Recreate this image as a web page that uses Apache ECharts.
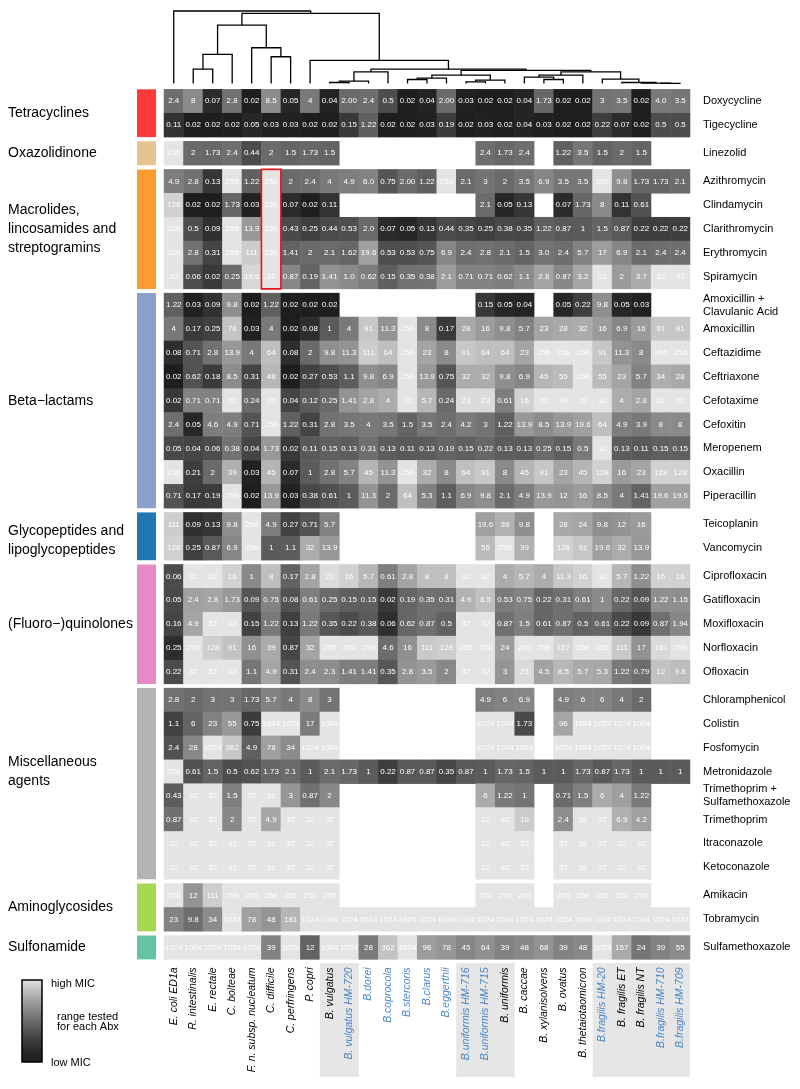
<!DOCTYPE html>
<html><head><meta charset="utf-8">
<script src="https://cdn.jsdelivr.net/npm/echarts@6/dist/echarts.min.js"></script>
<style>html,body{margin:0;padding:0;background:#fff}#c{width:800px;height:1089px}</style>
</head><body><div id="c"></div><script>
const _ = null;
// ---- columns (strains) ----
const strains = ['E. coli ED1a','R. intestinalis','E. rectale','C. bolteae','F. n. subsp. nucleatum','C. difficile','C. perfringens','P. copri','B. vulgatus','B. vulgatus HM-720','B.dorei','B.coprocola','B.stercoris','B.clarus','B.eggerthii','B.uniformis HM-716','B.uniformis HM-715','B. uniformis','B. caccae','B. xylanisolvens','B. ovatus','B. thetaiotaomicron','B.fragilis HM-20','B. fragilis ET','B. fragilis NT','B.fragilis HM-710','B.fragilis HM-709'];
const blueStrainIdx = [9,10,11,12,13,14,15,16,22,25,26];
const speciesBoxes = [[8,9],[15,17],[22,26]];
// ---- MIC values (rows) ----
const doxycycline = ['2.4','8','0.07','2.8','0.02','8.5','0.05','4','0.04','2.00','2.4','0.5','0.02','0.04','2.00','0.03','0.02','0.02','0.04','1.73','0.02','0.02','3','3.5','0.02','4.0','3.5'];
const tigecycline = ['0.11','0.02','0.02','0.02','0.05','0.03','0.03','0.02','0.02','0.15','1.22','0.02','0.02','0.03','0.19','0.02','0.03','0.02','0.04','0.03','0.02','0.02','0.22','0.07','0.02','0.5','0.5'];
const linezolid = ['256','2','1.73','2.4','0.44','2','1.5','1.73','1.5',_,_,_,_,_,_,_,'2.4','1.73','2.4',_,'1.22','3.5','1.5','2','1.5',_,_];
const azithromycin = ['4.9','2.8','0.13','256','1.22','256','2','2.4','4','4.9','6.0','0.75','2.00','1.22','256','2.1','3','2','3.5','6.9','3.5','3.5','256','9.8','1.73','1.73','2.1'];
const clindamycin = ['128','0.02','0.02','1.73','0.03','256','0.07','0.02','0.11',_,_,_,_,_,_,_,'2.1','0.05','0.13',_,'0.07','1.73','8','0.11','0.61',_,_];
const clarithromycin = ['256','0.5','0.09','256','13.9','256','0.43','0.25','0.44','0.53','2.0','0.07','0.05','0.13','0.44','0.35','0.25','0.38','0.35','1.22','0.87','1','1.5','0.87','0.22','0.22','0.22'];
const erythromycin = ['256','2.8','0.31','256','111','256','1.41','2','2.1','1.62','19.6','0.53','0.53','0.75','6.9','2.4','2.8','2.1','1.5','3.0','2.4','5.7','17','6.9','2.1','2.4','2.4'];
const spiramycin = ['32','0.06','0.02','0.25','19.6','32','0.87','0.19','1.41','1.0','0.62','0.15','0.35','0.38','2.1','0.71','0.71','0.62','1.1','2.8','0.87','3.2','32','2','3.7','32','32'];
const amoxClav = ['1.22','0.03','0.09','9.8','0.02','1.22','0.02','0.02','0.02',_,_,_,_,_,_,_,'0.15','0.05','0.04',_,'0.05','0.22','9.8','0.05','0.03',_,_];
const amoxicillin = ['4','0.17','0.25','78','0.03','4','0.02','0.08','1','4','91','11.3','256','8','0.17','28','16','9.8','5.7','23','28','32','16','6.9','16','91','91'];
const ceftazidime = ['0.08','0.71','2.8','13.9','4','64','0.08','2','9.8','11.3','111','64','256','23','8','91','64','64','23','256','256','256','91','11.3','8','256','256'];
const ceftriaxone = ['0.02','0.62','0.18','8.5','0.31','48','0.02','0.27','0.53','1.1','9.8','6.9','256','13.9','0.75','32','32','9.8','6.9','45','55','256','55','23','5.7','34','28'];
const cefotaxime = ['0.02','0.71','0.71','32','0.24','32','0.04','0.12','0.25','1.41','2.8','4','32','5.7','0.24','23','23','0.61','16','32','39','32','32','4','2.8','32','32'];
const cefoxitin = ['2.4','0.05','4.6','4.9','0.71','256','1.22','0.31','2.8','3.5','4','3.5','1.5','3.5','2.4','4.2','3','1.22','13.9','8.5','13.9','19.6','64','4.9','3.9','8','8'];
const meropenem = ['0.05','0.04','0.06','0.38','0.04','1.73','0.02','0.11','0.15','0.13','0.31','0.13','0.11','0.13','0.19','0.15','0.22','0.13','0.13','0.25','0.15','0.5','32','0.13','0.11','0.15','0.15'];
const oxacillin = ['256','0.21','2','39','0.03','45','0.07','1','2.8','5.7','45','11.3','256','32','8','64','91','8','45','91','23','45','128','16','23','128','128'];
const piperacillin = ['0.71','0.17','0.19','256','0.02','13.9','0.03','0.38','0.61','1','11.3','2','64','5.3','1.1','6.9','9.8','2.1','4.9','13.9','12','16','8.5','4','1.41','19.6','19.6'];
const teicoplanin = ['111','0.09','0.13','9.8','256','4.9','0.27','0.71','5.7',_,_,_,_,_,_,_,'19.6','39','9.8',_,'28','24','9.8','12','16',_,_];
const vancomycin = ['128','0.25','0.87','6.9','256','1','1.1','32','13.9',_,_,_,_,_,_,_,'55','256','39',_,'128','91','19.6','32','13.9',_,_];
const ciprofloxacin = ['0.06','32','32','16','1','8','0.17','2.8','23','16','5.7','0.61','2.8','8','8','32','32','4','5.7','4','11.3','16','32','5.7','1.22','16','16'];
const gatifloxacin = ['0.05','2.4','2.8','1.73','0.09','0.75','0.08','0.61','0.25','0.15','0.15','0.02','0.19','0.35','0.31','4.9','8.5','0.53','0.75','0.22','0.31','0.61','1','0.22','0.09','1.22','1.15'];
const moxifloxacin = ['0.16','4.9','32','32','0.15','1.22','0.13','1.22','0.35','0.22','0.38','0.06','0.62','0.87','0.5','32','32','0.87','1.5','0.61','0.87','0.5','0.61','0.22','0.09','0.87','1.94'];
const norfloxacin = ['0.25','256','128','91','16','39','0.87','32','256','256','256','4.6','16','111','128','256','256','24','256','256','157','256','256','111','17','181','256'];
const ofloxacin = ['0.22','32','32','32','1.1','4.9','0.31','2.4','2.3','1.41','1.41','0.35','2.8','3.5','2','32','32','3','23','4.5','8.5','5.7','5.3','1.22','0.79','12','9.8'];
const chloramphenicol = ['2.8','2','3','3','1.73','5.7','4','8','3',_,_,_,_,_,_,_,'4.9','6','6.9',_,'4.9','6','6','4','2',_,_];
const colistin = ['1.1','6','23','55','0.75','1024','1024','17','1024',_,_,_,_,_,_,_,'1024','1024','1.73',_,'96','1024','1024','1024','1024',_,_];
const fosfomycin = ['2.4','28','1024','362','4.9','78','34','1024','1024',_,_,_,_,_,_,_,'1024','1024','1024',_,'1024','1024','1024','1024','1024',_,_];
const metronidazole = ['256','0.61','1.5','0.5','0.62','1.73','2.1','1','2.1','1.73','1','0.22','0.87','0.87','0.35','0.87','1','1.73','1.5','1','1','1.73','0.87','1.73','1','1','1'];
const trimSulfa = ['0.43','32','32','1.5','32','32','3','0.87','2',_,_,_,_,_,_,_,'6','1.22','1',_,'0.71','1.5','6','4','1.22',_,_];
const trimethoprim = ['0.87','32','32','2','32','4.9','32','32','32',_,_,_,_,_,_,_,'32','32','16',_,'2.4','32','32','6.9','4.2',_,_];
const itraconazole = ['32','32','32','32','32','32','32','32','32',_,_,_,_,_,_,_,'32','32','32',_,'32','32','32','32','32',_,_];
const ketoconazole = ['32','32','32','32','32','32','32','32','32',_,_,_,_,_,_,_,'32','32','32',_,'32','32','32','32','32',_,_];
const amikacin = ['256','12','111','256','256','256','256','256','256',_,_,_,_,_,_,_,'256','256','256',_,'256','256','256','256','256',_,_];
const tobramycin = ['23','9.8','34','1024','78','48','181','1024','1024','1024','1024','1024','1024','1024','1024','1024','1024','1024','1024','1024','1024','1024','1024','1024','1024','1024','1024'];
const sulfamethoxazole = ['1024','1024','1024','1024','1024','39','1024','12','1024','1024','28','362','1024','96','78','45','64','39','48','68','39','48','1024','157','24','39','55'];

const antibiotics = ['Doxycycline','Tigecycline','Linezolid','Azithromycin','Clindamycin','Clarithromycin','Erythromycin','Spiramycin','Amoxicillin +\nClavulanic Acid','Amoxicillin','Ceftazidime','Ceftriaxone','Cefotaxime','Cefoxitin','Meropenem','Oxacillin','Piperacillin','Teicoplanin','Vancomycin','Ciprofloxacin','Gatifloxacin','Moxifloxacin','Norfloxacin','Ofloxacin','Chloramphenicol','Colistin','Fosfomycin','Metronidazole','Trimethoprim +\nSulfamethoxazole','Trimethoprim','Itraconazole','Ketoconazole','Amikacin','Tobramycin','Sulfamethoxazole'];
const micRows = [doxycycline,tigecycline,linezolid,azithromycin,clindamycin,clarithromycin,erythromycin,spiramycin,amoxClav,amoxicillin,ceftazidime,ceftriaxone,cefotaxime,cefoxitin,meropenem,oxacillin,piperacillin,teicoplanin,vancomycin,ciprofloxacin,gatifloxacin,moxifloxacin,norfloxacin,ofloxacin,chloramphenicol,colistin,fosfomycin,metronidazole,trimSulfa,trimethoprim,itraconazole,ketoconazole,amikacin,tobramycin,sulfamethoxazole];
// tested concentration range per antibiotic (low / high)
const testedMin = [0.016,0.016,0.016,0.016,0.016,0.016,0.016,0.002,0.016,0.016,0.016,0.016,0.002,0.016,0.002,0.016,0.016,0.016,0.016,0.002,0.002,0.016,0.064,0.016,0.016,0.064,0.064,0.016,0.016,0.016,0.002,0.002,0.016,0.064,0.25];
const testedMax = [256,256,256,256,256,256,256,32,256,256,256,256,32,256,32,256,256,256,256,32,32,32,256,32,256,1024,1024,256,32,32,32,32,256,1024,1024];

const groupNames = ['Tetracyclines','Oxazolidinone','Macrolides,\nlincosamides and\nstreptogramins','Beta\u2212lactams','Glycopeptides and\nlipoglycopeptides','(Fluoro\u2212)quinolones','Miscellaneous\nagents','Aminoglycosides','Sulfonamide'];
const groupSizes = [2,1,5,9,2,5,8,2,1];
const groupColors = ['#fc3a3a','#e5c494','#fd9b33','#8da0cb','#1f78b4','#e78ac3','#b3b3b3','#a6d854','#66c2a5'];
const groupLabelShift = [0,0,0,0,4,0,-12,0,0];

// dendrogram: leaves = column indices, nodes = [left, right, height]
const dendrogram = [0, [
  [[[1,2,43],3,87],[4,[5,6,80],107],175],
  [7, [
    [[[8,9,3],10,7],11,35],
    [
      [[[12,13,12],14,16],[[15,16,5],17,10],25],
      [[[18,[19,20,12],19],21,25],[22,[23,[24,[25,26,0.5],1],3],13],35],
    39],
  43], 69],
210], 217];

// ---- layout ----
const FF = "'Liberation Sans', Arial, Helvetica, sans-serif";
const L = 164, W = 526, TOP = 89.3, RH = 23.9, GAP = 4.2;
const cw = W / strains.length;
const BLUE = '#4a86c8';
const GAMMA = 1.35, G0 = 28, G1 = 228;
function grayHex(t){ const g = Math.round(G0 + (G1-G0)*Math.pow(t,GAMMA)); const h = g.toString(16).padStart(2,'0'); return '#'+h+h+h; }
const ramp = []; for (let k=0;k<=20;k++) ramp.push(grayHex(k/20));

const grids=[], xAxes=[], yAxes=[], series=[], graphics=[];
let y = TOP, rowStart = 0;
groupSizes.forEach((n, gi) => {
  const h = n*RH;
  grids.push({left:L, top:y, width:W, height:h, containLabel:false, outerBoundsMode:'none'});
  const last = gi === groupSizes.length-1;
  xAxes.push({type:'category', gridIndex:gi, data:strains, axisLine:{show:false}, axisTick:{show:false}, splitLine:{show:false},
    axisLabel: last ? {show:true, interval:0, rotate:90, fontStyle:'italic', fontSize:10.5, margin:8, fontFamily:FF,
      color:(v,i)=> blueStrainIdx.includes(i) ? BLUE : '#000'} : {show:false}});
  const names = antibiotics.slice(rowStart, rowStart+n);
  yAxes.push({type:'category', gridIndex:gi, inverse:true, position:'right', data:names,
    axisLine:{show:false}, axisTick:{show:false}, splitLine:{show:false},
    axisLabel:{fontSize:11, margin:13, color:'#000', lineHeight:13, fontFamily:FF}});
  const data = [];
  for (let r=0;r<n;r++){
    const ai = rowStart + r, row = micRows[ai];
    const lo = Math.log2(testedMin[ai]), hi = Math.log2(testedMax[ai]);
    row.forEach((v,c)=>{
      if (v === null) return;
      let t = (Math.log2(parseFloat(v)) - lo)/(hi - lo);
      t = Math.max(0, Math.min(1, t));
      data.push([c, r, t, v]);
    });
  }
  series.push({type:'heatmap', xAxisIndex:gi, yAxisIndex:gi, data, silent:true,
    label:{show:true, color:'#fff', fontSize:8, fontFamily:FF, formatter:p=>p.value[3]},
    itemStyle:{borderWidth:0}, emphasis:{disabled:true}});
  graphics.push({type:'rect', shape:{x:137, y:y, width:19, height:h}, style:{fill:groupColors[gi]}});
  graphics.push({type:'text', x:8, y:y+h/2+groupLabelShift[gi], style:{text:groupNames[gi], fill:'#000', fontSize:14, fontFamily:FF, lineHeight:19, align:'left', verticalAlign:'middle'}});
  if (gi === 2) {
    const ci = strains.indexOf('C. difficile');
    graphics.push({type:'rect', z:100, shape:{x:L+ci*cw, y:y, width:cw, height:h}, style:{fill:'none', stroke:'#e8161b', lineWidth:1.6}});
  }
  y += h + GAP; rowStart += n;
});

// species background boxes behind column labels
speciesBoxes.forEach(([a,b]) => {
  graphics.push({type:'rect', z:-1, shape:{x:L+a*cw, y:963, width:(b-a+1)*cw, height:114}, style:{fill:'#e6e6e6'}});
});

// dendrogram
const LEAFY = 83.5, ROOTY = 11, ROOTH = 217;
const hy = h => LEAFY - h*(LEAFY-ROOTY)/ROOTH;
function dend(node){
  if (typeof node === 'number') return {x:L+cw*(node+0.5), h:0};
  const a = dend(node[0]), b = dend(node[1]), yh = hy(node[2]);
  graphics.push({type:'polyline', z:100, shape:{points:[[a.x,hy(a.h)],[a.x,yh],[b.x,yh],[b.x,hy(b.h)]]}, style:{stroke:'#000', lineWidth:1.3, fill:null}});
  return {x:(a.x+b.x)/2, h:node[2]};
}
dend(dendrogram);

// legend
graphics.push({type:'rect', shape:{x:22, y:980, width:20, height:82},
  style:{fill:{type:'linear', x:0, y:0, x2:0, y2:1, colorStops: ramp.slice().reverse().map((c,k)=>({offset:k/20, color:c}))}, stroke:'#000', lineWidth:1.5}});
graphics.push({type:'text', x:51, y:984, style:{text:'high MIC', fill:'#000', fontSize:11, fontFamily:FF, verticalAlign:'middle'}});
graphics.push({type:'text', x:57, y:1022, style:{text:'range tested\nfor each Abx', fill:'#000', fontSize:11, fontFamily:FF, lineHeight:10.5, verticalAlign:'middle'}});
graphics.push({type:'text', x:51, y:1063, style:{text:'low MIC', fill:'#000', fontSize:11, fontFamily:FF, verticalAlign:'middle'}});

const chart = echarts.init(document.getElementById('c'), null, {renderer:'canvas'});
chart.setOption({
  animation:false, backgroundColor:'#fff',
  grid:grids, xAxis:xAxes, yAxis:yAxes, series,
  visualMap:{show:false, type:'continuous', min:0, max:1, dimension:2, seriesIndex:series.map((s,i)=>i), inRange:{color:ramp}},
  graphic:{elements:graphics}
});
</script></body></html>
